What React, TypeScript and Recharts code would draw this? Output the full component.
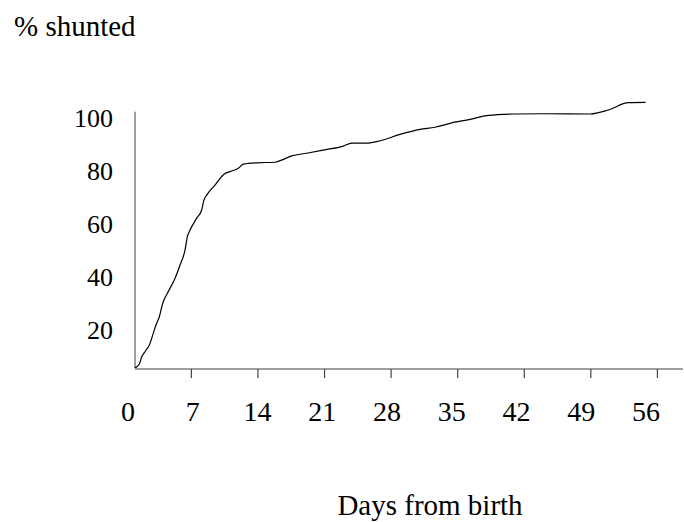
import React from 'react';
import { LineChart, Line, XAxis, YAxis, ReferenceLine } from 'recharts';

// Curve: days from birth vs % shunted
const days: number[] = [
  0, 0.47, 0.73, 1.08, 1.55, 1.98, 2.27, 2.63, 3.0, 3.6, 4.33, 4.87, 5.41, 5.66, 5.95,
  6.67, 7.21, 7.46, 7.75, 8.65, 9.62, 10.46, 11.17, 11.71, 13.16, 15.14, 16.03, 16.94,
  18.56, 20.36, 22.52, 23.43, 25.05, 26.49, 28.65, 30.81, 32.43, 34.06, 36.22, 38.02,
  40.9, 44.5, 49.19, 51.17, 53.33, 55.2,
];
const shunted: number[] = [
  5.7, 7.2, 9.9, 11.8, 14.3, 18.8, 21.9, 25.0, 30.1, 34.5, 39.5, 44.5, 50.2, 55.2, 57.7,
  62.2, 65.3, 69.1, 70.9, 74.7, 78.8, 80.0, 81.0, 82.6, 83.1, 83.3, 84.4, 85.7,
  86.7, 87.9, 89.4, 90.5, 90.5, 91.4, 93.8, 95.7, 96.5, 98.0, 99.5, 100.9,
  101.5, 101.6, 101.5, 103.0, 105.8, 105.9,
];

const xTickLabels: number[] = [0, 7, 14, 21, 28, 35, 42, 49, 56];
const xTickMarks: number[] = [7, 14, 21, 28, 35, 42, 49, 56];
const yTickLabels: number[] = [20, 40, 60, 80, 100];

const labelXDomain: [number, number] = [0, 59.24];
const markXDomain: [number, number] = [1.072, 58.69];
const yDomain: [number, number] = [5.66, 106.79];
const yAxisLineTop = 102.4;

const data = days.map((d, i) => ({ day: d, pct: shunted[i] }));

const FONT = '"Liberation Serif", "Times New Roman", serif';
const AXIS = '#7f7f7f';

const NoLabel = () => <g />;

export default function App() {
  return (
    <div style={{ position: 'absolute', left: 0, top: 0, width: 684, height: 522, background: '#fff' }}>
      <LineChart
        width={684}
        height={522}
        data={data}
        margin={{ top: 100, left: 134, right: 1, bottom: 152 }}
      >
        <XAxis
          xAxisId="marks"
          type="number"
          dataKey="day"
          domain={markXDomain}
          allowDataOverflow
          ticks={xTickMarks}
          interval={0}
          height={1}
          tick={NoLabel}
          tickSize={9}
          axisLine={{ stroke: AXIS, strokeWidth: 1.5 }}
          tickLine={{ stroke: '#444', strokeWidth: 1.2 }}
        />
        <XAxis
          xAxisId="lab"
          type="number"
          dataKey="day"
          domain={labelXDomain}
          ticks={xTickLabels}
          interval={0}
          height={1}
          axisLine={false}
          tickLine={false}
          tickSize={0}
          tickMargin={33}
          tick={{ fontSize: 28, fontFamily: FONT, fill: '#000', dx: -7 }}
        />
        <YAxis
          yAxisId="val"
          type="number"
          domain={yDomain}
          ticks={yTickLabels}
          interval={0}
          width={1}
          axisLine={false}
          tickLine={false}
          tickSize={0}
          tickMargin={22}
          tick={{ fontSize: 26, fontFamily: FONT, fill: '#000' }}
        />
        <ReferenceLine
          xAxisId="lab"
          yAxisId="val"
          segment={[{ x: 0, y: yDomain[0] }, { x: 0, y: yAxisLineTop }]}
          stroke={AXIS}
          strokeWidth={1.5}
        />
        <Line
          xAxisId="lab"
          yAxisId="val"
          type="monotone"
          dataKey="pct"
          stroke="#000"
          strokeWidth={1.2}
          dot={false}
          isAnimationActive={false}
        />
      </LineChart>
      <svg
        width={684}
        height={522}
        style={{ position: 'absolute', left: 0, top: 0, pointerEvents: 'none' }}
      >
        <text x={14} y={36} fontSize={29} fontFamily={FONT} fill="#000">% shunted</text>
        <text x={430} y={515} fontSize={29} fontFamily={FONT} fill="#000" textAnchor="middle">Days from birth</text>
      </svg>
    </div>
  );
}
